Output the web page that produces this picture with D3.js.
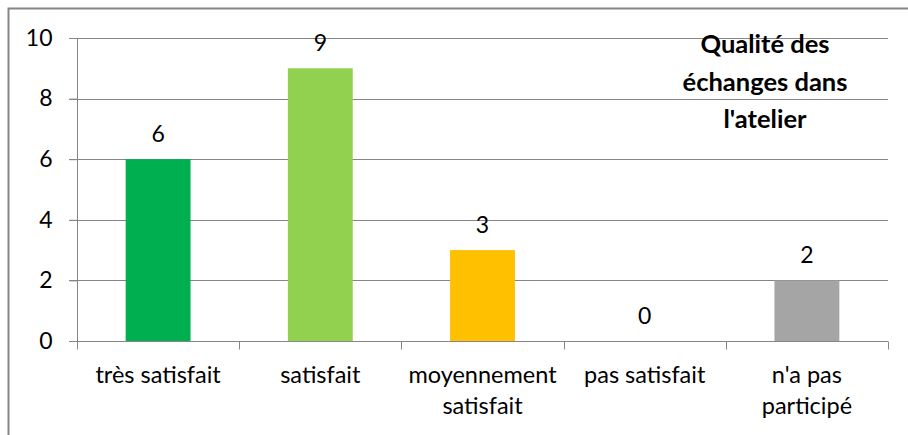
<!DOCTYPE html>
<head>
  <meta charset="UTF-8">
  <script src="https://d3js.org/d3.v7.min.js"></script>
</head>
<body style="margin:0;background:#fff">
  <svg id="chart" width="908" height="435"></svg>
</body>
<style>
  text { font-family: Lato, 'Open Sans', sans-serif; fill: #000; }
</style>
<script>
  // data
  const categories = [["très satisfait"], ["satisfait"], ["moyennement", "satisfait"], ["pas satisfait"], ["n'a pas", "participé"]];
  const values = [6, 9, 3, 0, 2];
  const colors = ["#00B050", "#92D050", "#FFC000", "#FFC000", "#A5A5A5"];
  const yTicks = [0, 2, 4, 6, 8, 10];
  const titleLines = ["Qualité des", "échanges dans", "l'atelier"];

  const svg = d3.select('#chart');

  // outer frame (cut on right and bottom)
  svg.append('rect')
    .attr('x', 8.5).attr('y', 8.5)
    .attr('width', 920).attr('height', 460)
    .attr('fill', 'none')
    .attr('stroke', '#868686')
    .attr('stroke-width', 2);

  const x = d3.scaleBand()
    .domain(d3.range(values.length))
    .range([77, 888])
    .paddingInner(0.6)
    .paddingOuter(0.3);

  const y = d3.scaleLinear().domain([0, 10]).range([341, 38]);

  // gridlines
  svg.append('g')
    .selectAll('line')
    .data(yTicks.filter(d => d > 0))
    .join('line')
    .attr('x1', 69).attr('x2', 888)
    .attr('y1', d => Math.round(y(d)) + 0.5)
    .attr('y2', d => Math.round(y(d)) + 0.5)
    .attr('stroke', '#868686');

  // y axis
  const yAxis = svg.append('g')
    .attr('transform', 'translate(77.5,0)')
    .call(d3.axisLeft(y).tickValues(yTicks).tickSize(8).tickPadding(17));
  yAxis.select('.domain').attr('stroke', '#868686').attr('d', `M0,${y(10)}V${y(0)}`);
  yAxis.selectAll('.tick line').attr('stroke', '#868686');
  yAxis.selectAll('.tick text').attr('font-size', 23).attr('font-family', 'Lato, sans-serif');

  // bars
  svg.append('g')
    .selectAll('rect')
    .data(values)
    .join('rect')
    .attr('x', (d, i) => x(i))
    .attr('y', d => y(d))
    .attr('width', x.bandwidth())
    .attr('height', d => y(0) - y(d))
    .attr('fill', (d, i) => colors[i]);

  // value labels
  svg.append('g')
    .selectAll('text')
    .data(values)
    .join('text')
    .attr('x', (d, i) => x(i) + x.bandwidth() / 2)
    .attr('y', d => y(d) - 17)
    .attr('text-anchor', 'middle')
    .attr('font-size', 23)
    .text(d => d);

  // x axis
  const step = (888 - 77) / values.length;
  const xBase = svg.append('g').attr('transform', `translate(0,${Math.round(y(0)) + 0.5})`);
  xBase.append('line').attr('x1', 69).attr('x2', 888).attr('stroke', '#868686');
  xBase.selectAll('line.tk')
    .data(d3.range(values.length + 1))
    .join('line')
    .attr('class', 'tk')
    .attr('x1', i => Math.round(77 + i * step) + 0.5)
    .attr('x2', i => Math.round(77 + i * step) + 0.5)
    .attr('y1', 0).attr('y2', 8)
    .attr('stroke', '#868686');

  xBase.selectAll('text')
    .data(categories)
    .join('text')
    .attr('text-anchor', 'middle')
    .attr('font-size', 23.5)
    .attr('transform', (d, i) => `translate(${x(i) + x.bandwidth() / 2},0)`)
    .selectAll('tspan')
    .data(d => d)
    .join('tspan')
    .attr('x', 0)
    .attr('y', (d, j) => 41 + j * 31)
    .text(d => d);

  // title
  svg.append('g')
    .selectAll('text')
    .data(titleLines)
    .join('text')
    .attr('x', 765)
    .attr('y', (d, i) => 53 + i * 37.5)
    .attr('text-anchor', 'middle')
    .attr('font-size', 25.5)
    .attr('font-weight', 'bold')
    .text(d => d);
</script>
